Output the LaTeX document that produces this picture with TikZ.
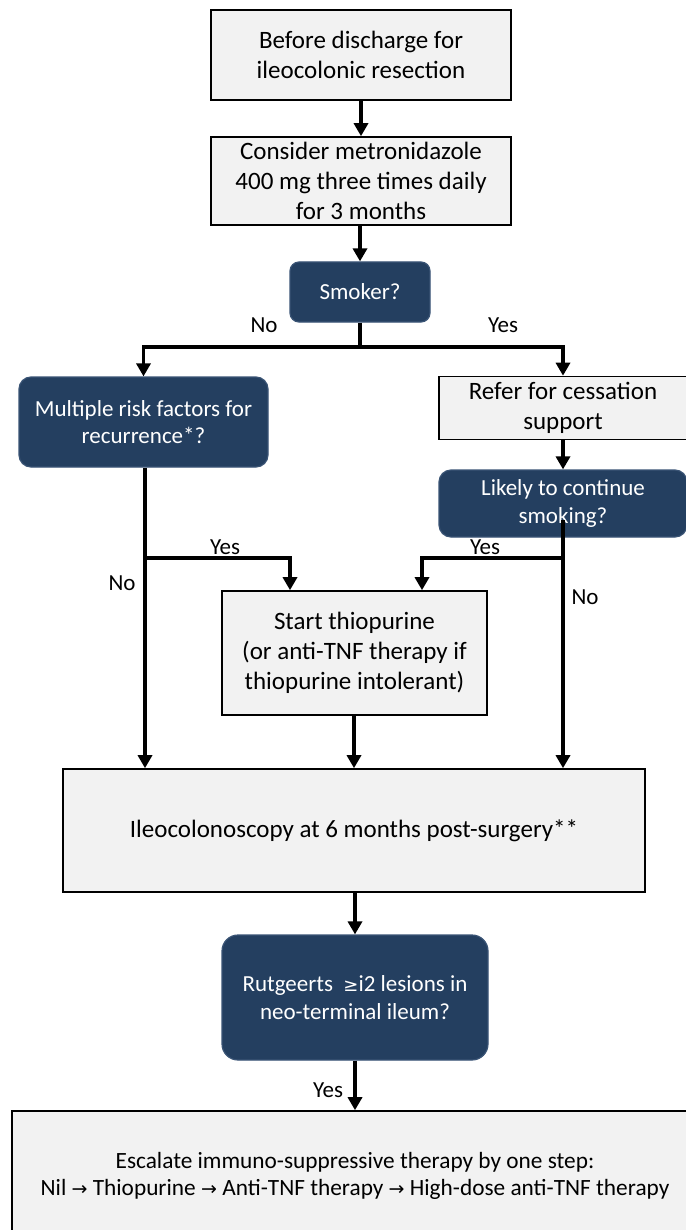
\documentclass[tikz,border=0pt]{standalone}
\usepackage{fontspec}
\setmainfont{Carlito}
\newfontfamily\symf{DejaVu Sans}
\usetikzlibrary{arrows.meta}
\definecolor{lightbox}{HTML}{F2F2F2}
\definecolor{darkbox}{HTML}{243F60}
\definecolor{darkedge}{HTML}{3A5475}
\begin{document}
\begin{tikzpicture}[x=1pt,y=-1pt,
  graybox/.style={draw=black,line width=1.6pt,fill=lightbox,align=center,inner sep=2pt,
    font=\fontsize{25}{30}\selectfont},
  bluebox/.style={draw=darkedge,line width=1.2pt,fill=darkbox,text=white,align=center,
    rounded corners=12pt,inner sep=2pt,font=\fontsize{23}{27.5}\selectfont},
  conn/.style={line width=3.8pt,-{Triangle[length=13pt,width=14pt]}},
  plainline/.style={line width=3.8pt},
  lbl/.style={font=\fontsize{23}{24}\selectfont,inner sep=0pt},
  sym/.style={}]
\useasboundingbox (0,0) rectangle (685,1230);
\fill[white] (0,0) rectangle (685,1230);

\node[graybox,minimum width=300pt,minimum height=90pt] (b1) at (361,55)
  {Before discharge for\\ileocolonic resection};
\node[graybox,minimum width=300pt,minimum height=88pt] (b2) at (361,181)
  {Consider metronidazole\\400 mg three times daily\\for 3 months};
\node[bluebox,minimum width=140pt,minimum height=60pt,rounded corners=9pt] (smk) at (360,292)
  {Smoker?};
\node[bluebox,minimum width=249pt,minimum height=90pt] (risk) at (143.5,422)
  {Multiple risk factors for\\recurrence*?};
\node[graybox,minimum width=248pt,minimum height=63pt] (ref) at (563,408)
  {Refer for cessation\\support};
\node[bluebox,minimum width=248pt,minimum height=67pt] (lik) at (563,503.5)
  {Likely to continue\\smoking?};
\node[graybox,minimum width=265pt,minimum height=124pt] (thio) at (354.5,653)
  {Start thiopurine\\(or anti-TNF therapy if\\thiopurine intolerant)};
\node[graybox,minimum width=582pt,minimum height=123pt] (ileo) at (354,830.5)
  {Ileocolonoscopy at 6 months post-surgery**};
\node[bluebox,minimum width=266pt,minimum height=125pt,rounded corners=16pt] (rut) at (355,997.5)
  {Rutgeerts\ \ {\symf\fontsize{18}{27}\selectfont ≥}i2 lesions in\\neo-terminal ileum?};
\node[graybox,minimum width=686pt,minimum height=130pt,font=\fontsize{23.3}{27}\selectfont] (esc) at (355,1176)
  {Escalate immuno-suppressive therapy by one step:\\
   Nil {\symf\fontsize{19}{27}\selectfont →} Thiopurine {\symf\fontsize{19}{27}\selectfont →} Anti-TNF therapy {\symf\fontsize{19}{27}\selectfont →} High-dose anti-TNF therapy};

% connectors
\draw[conn] (b1) -- (b2);
\draw[conn] (b2.south -| smk) -- (smk);
\coordinate (split) at (360,347);
\draw[plainline] (smk.south) -- (split);
\draw[conn] (split) -| (risk.north);
\draw[conn] (split) -| (ref.north);
\draw[conn] (ref) -- (lik);

\coordinate (ly) at (145,558);
\draw[conn] (risk.south -| ly) -- (ileo.north -| ly);
\coordinate (ty) at (290,558);
\draw[conn] (ly) -- (ty) -- (thio.north -| ty);

\coordinate (ry) at (563,558);
\coordinate (tyr) at (422,558);
\draw[conn] (563,520) -- (ileo.north -| ry);
\draw[conn] (ry) -- (tyr) -- (thio.north -| tyr);

\draw[conn] (thio.south -| ileo) -- (ileo.north);
\draw[conn] (ileo.south -| rut) -- (rut.north);
\draw[conn] (rut.south) -- (esc.north -| rut);

% labels
\node[lbl] (lno1) at (264,325) {No};
\node[lbl] (lyes1) at (503,325) {Yes};
\node[lbl] (lyes2) at (225,547) {Yes};
\node[lbl] (lno2) at (122,583) {No};
\node[lbl] (lyes3) at (485,547) {Yes};
\node[lbl] (lno3) at (585,597) {No};
\node[lbl] (lyes4) at (328,1090) {Yes};
\end{tikzpicture}
\end{document}
